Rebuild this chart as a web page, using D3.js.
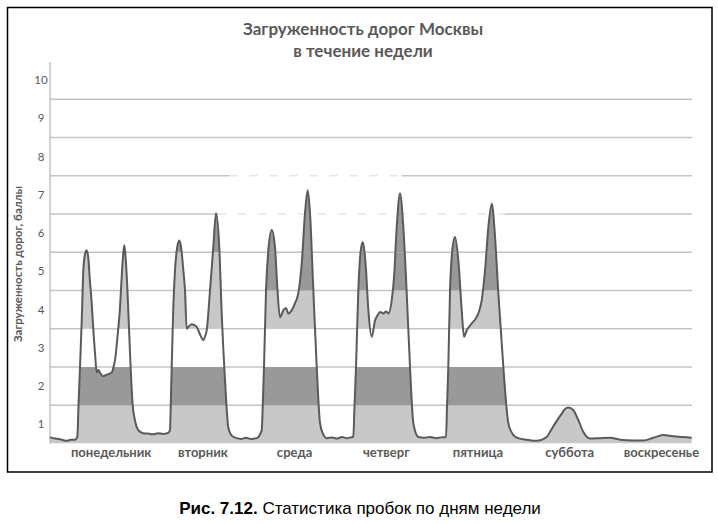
<!DOCTYPE html>
<html><head><meta charset="utf-8">
<script src="https://cdn.jsdelivr.net/npm/d3@7"></script>
<style>
html,body{margin:0;padding:0;background:#fff;}
svg{display:block;}
</style></head>
<body>
<script>
// ---- data ----
const chartTitle = ["Загруженность дорог Москвы", "в течение недели"];
const yAxisTitle = "Загруженность дорог, баллы";
const caption = ["Рис. 7.12.", " Статистика пробок по дням недели"];
const dayNames = ["понедельник","вторник","среда","четверг","пятница","суббота","воскресенье"];
const yTicks = [1,2,3,4,5,6,7,8,9,10];
const gridLevels = [1.5,2.5,3.5,4.5,5.5,6.5,7.5,8.5,9.5];
// hours since Monday 00:00
const hours = [
 0,1.3,3.06,4.37,5.5,6.54,7.14,7.46,7.85,8.3,8.71,9.16,9.6,10.08,10.34,10.91,11.38,11.78,12.22,12.69,13.09,13.95,14.92,16.15,16.62,17.01,17.67,18.32,18.84,19.18,19.44,19.76,20.23,20.6,20.94,21.64,22.24,23.11,24.34,
 25.65,26.96,28.27,29.57,30.88,31.4,31.67,31.85,32.19,32.71,33.24,33.84,34.28,34.89,35.33,35.77,36.25,37.08,37.69,38.39,39.26,40.12,40.56,41.01,41.87,42.73,43.44,44.3,44.93,45.8,46.66,47.63,48.86,
 49.98,51.29,52.6,54.09,55.4,55.74,56.0,56.53,57.18,58.02,58.88,59.48,60.19,61.05,61.76,62.36,63.25,64.12,64.98,65.87,66.73,67.44,68.04,68.91,69.8,70.66,71.44,72.41,
 73.8,75.11,76.42,77.72,78.77,79.37,79.69,80.08,80.68,81.26,81.84,82.31,82.7,83.31,84.2,85.06,85.71,86.37,87.23,87.94,88.54,89.43,90.03,90.73,91.59,92.46,93.35,94.21,95.08,96.39,
 97.88,99.45,101.0,102.3,103.63,103.9,104.23,104.68,105.33,105.98,106.85,107.74,108.34,109.05,110.36,111.67,112.27,112.98,113.84,114.71,115.6,116.46,117.32,118.63,119.94,121.25,122.55,
 124.75,127.37,129.98,131.11,132.16,133.91,134.78,135.64,136.95,138.26,139.57,141.32,143.93,146.55,149.17,152.65,155.27,157.88,160.5,163.12,165.73,167.93
];
const load = [
 0.66,0.63,0.60,0.57,0.60,0.60,0.67,1.5,2.5,3.7,5.0,5.45,5.55,5.3,4.9,4.17,3.4,2.86,2.36,2.42,2.35,2.26,2.3,2.36,2.5,2.68,3.3,4.06,5.0,5.47,5.68,5.4,4.58,3.7,2.86,1.5,1.1,0.85,0.77,
 0.76,0.74,0.77,0.75,0.78,0.85,1.8,2.5,3.8,5.03,5.6,5.81,5.65,5.03,4.5,3.5,3.55,3.62,3.6,3.55,3.35,3.2,3.3,3.46,4.5,5.63,6.52,5.63,3.9,2.15,0.92,0.7,0.64,
 0.62,0.65,0.62,0.64,0.85,1.7,2.5,4.5,5.6,6.08,5.63,4.58,3.8,3.98,4.04,3.9,3.98,4.17,4.43,5.2,6.52,7.12,6.52,4.5,2.5,1.03,0.75,0.64,
 0.66,0.63,0.67,0.64,0.66,0.68,1.5,2.5,4.5,5.5,5.77,5.5,5.03,3.98,3.29,3.72,3.85,3.94,3.9,3.95,3.9,4.25,4.85,6.16,7.04,6.16,4.43,2.5,1.03,0.67,
 0.65,0.67,0.64,0.66,0.67,1.5,2.5,4.5,5.6,5.9,5.29,3.98,3.29,3.46,3.64,3.81,3.95,4.25,5.03,6.16,6.77,5.9,4.43,2.5,1.03,0.72,0.64,
 0.6,0.57,0.67,0.85,1.02,1.28,1.4,1.44,1.37,1.11,0.8,0.63,0.64,0.65,0.6,0.58,0.58,0.65,0.72,0.69,0.67,0.65
];
// shading bands by level (lo, hi) and per-day shade
const bandLo = [0.5, 1.5, 2.5, 3.5, 4.5, 5.5];
const bandHi = [1.5, 2.5, 3.5, 4.5, 5.5, 10.5];
const bandShadeByDay = [
 ["light","light","light","light","light","light","light"],
 ["dark","dark","dark","dark","dark","dark","dark"],
 ["none","none","none","none","none","none","none"],
 ["light","light","light","light","light","light","light"],
 ["light","light","dark","dark","dark","light","light"],
 ["light","dark","dark","dark","dark","light","light"]
];
// gridline stretches that are faded in the original (level, from hour, to hour)
const fadedGrid = [[7.5, 47, 92], [6.5, 44, 119]];

// ---- drawing ----
const W = 718, H = 524;
const shade = {light:"#c8c8c8", dark:"#999999", none:"#ffffff"};
const textGray = "#595959";
const svg = d3.select("body").append("svg").attr("width", W).attr("height", H);
svg.append("rect").attr("width", W).attr("height", H).attr("fill", "#fff");
svg.append("rect").attr("x", 7.5).attr("y", 7.5).attr("width", 704.5).attr("height", 464.5)
  .attr("fill", "none").attr("stroke", "#000").attr("stroke-width", 1.5);

const x = d3.scaleLinear().domain([0, 168]).range([50, 692]);
const y = d3.scaleLinear().domain([0.5, 10.5]).range([443.5, 61]);

// title
svg.append("g").selectAll("text").data(chartTitle).join("text")
  .attr("x", 363).attr("y", (d,i) => 35 + i*22)
  .attr("text-anchor", "middle").attr("fill", textGray)
  .attr("font-family", "Lato, 'Open Sans', sans-serif").attr("font-weight", 700).attr("font-size", 17)
  .text(d => d);

// gridlines
const gridG = svg.append("g");
gridLevels.forEach(lv => {
  const faded = fadedGrid.find(f => f[0] === lv);
  if (!faded) {
    gridG.append("line").attr("x1", x(0)).attr("x2", x(168)).attr("y1", y(lv)).attr("y2", y(lv))
      .attr("stroke", "#c4c4c4").attr("stroke-width", 1.3);
  } else {
    gridG.append("line").attr("x1", x(0)).attr("x2", x(faded[1])).attr("y1", y(lv)).attr("y2", y(lv))
      .attr("stroke", "#c4c4c4").attr("stroke-width", 1.3);
    gridG.append("line").attr("x1", x(faded[1])).attr("x2", x(faded[2])).attr("y1", y(lv)).attr("y2", y(lv))
      .attr("stroke", "#e6e6e6").attr("stroke-width", 1.3).attr("stroke-dasharray", "8 12");
    gridG.append("line").attr("x1", x(faded[2])).attr("x2", x(168)).attr("y1", y(lv)).attr("y2", y(lv))
      .attr("stroke", "#c4c4c4").attr("stroke-width", 1.3);
  }
});

// area + bands
const pts = hours.map((h,i) => [h, load[i]]);
const area = d3.area().x(d => x(d[0])).y0(y(0.5)).y1(d => y(d[1])).curve(d3.curveMonotoneX);
const line = d3.line().x(d => x(d[0])).y(d => y(d[1])).curve(d3.curveMonotoneX);
svg.append("clipPath").attr("id", "areaClip").append("path").attr("d", area(pts));
const bandG = svg.append("g").attr("clip-path", "url(#areaClip)");
bandLo.forEach((lo, b) => {
  dayNames.forEach((_, d) => {
    const s = bandShadeByDay[b][d];
    bandG.append("rect")
      .attr("x", x(d*24)).attr("width", x((d+1)*24) - x(d*24) + 0.5)
      .attr("y", y(bandHi[b])).attr("height", y(lo) - y(bandHi[b]))
      .attr("fill", shade[s]);
  });
});

// y axis line
svg.append("line").attr("x1", 50).attr("x2", 50).attr("y1", 62).attr("y2", 443.5)
  .attr("stroke", "#a6a6a6").attr("stroke-width", 1);

// data line
svg.append("path").attr("d", line(pts)).attr("fill", "none")
  .attr("stroke", "#5a5a5a").attr("stroke-width", 2).attr("stroke-linejoin", "round");

// y tick labels
svg.append("g").selectAll("text").data(yTicks).join("text")
  .attr("x", 41).attr("y", d => y(d)).attr("dy", "0.35em")
  .attr("text-anchor", "middle").attr("fill", textGray)
  .attr("font-family", "Lato, sans-serif").attr("font-size", 11.5)
  .text(d => d);

// y axis title
svg.append("text").attr("transform", `translate(22,${264}) rotate(-90)`)
  .attr("text-anchor", "middle").attr("fill", textGray)
  .attr("font-family", "Lato, sans-serif").attr("font-weight", 700).attr("font-size", 11.5)
  .text(yAxisTitle);

// day labels
svg.append("g").selectAll("text").data(dayNames).join("text")
  .attr("x", (d,i) => x(i*24 + 16)).attr("y", 457)
  .attr("text-anchor", "middle").attr("fill", textGray)
  .attr("font-family", "Lato, sans-serif").attr("font-weight", 700).attr("font-size", 13)
  .text(d => d);

// caption
const cap = svg.append("text").attr("x", 360).attr("y", 514).attr("text-anchor", "middle")
  .attr("font-family", "'Liberation Sans', Arial, sans-serif").attr("font-size", 17).attr("fill", "#000");
cap.append("tspan").attr("font-weight", 700).text(caption[0]);
cap.append("tspan").text(caption[1]);
</script>
</body></html>
